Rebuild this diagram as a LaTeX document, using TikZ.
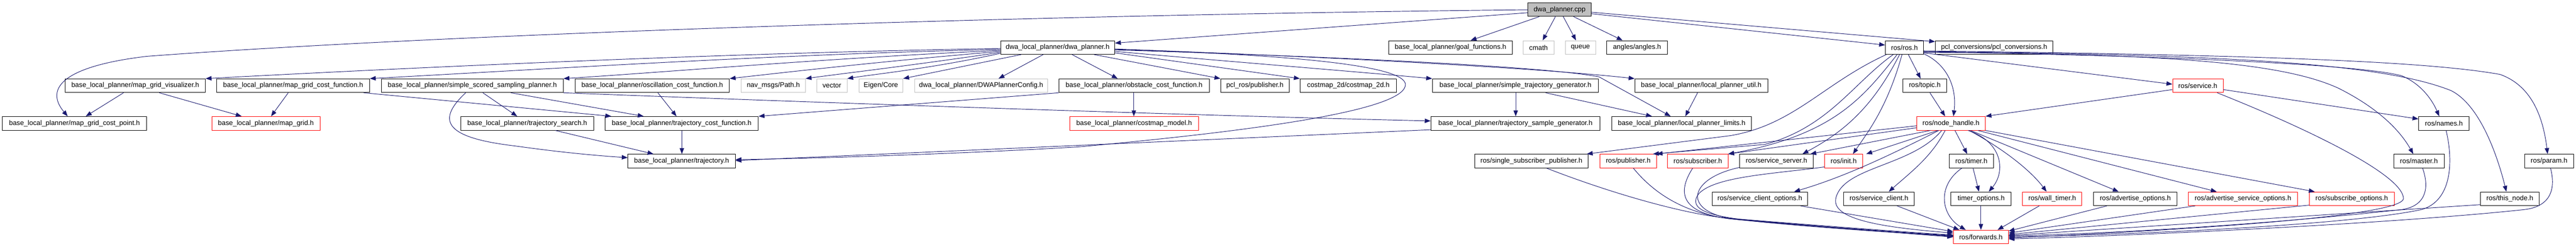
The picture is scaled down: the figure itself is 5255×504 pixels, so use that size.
\documentclass[tikz,border=0pt]{standalone}
\usepackage{fontspec}
\setmainfont{Liberation Sans}
\usetikzlibrary{arrows.meta}
\definecolor{edgeblue}{HTML}{191970}
\definecolor{lightborder}{HTML}{BFBFBF}
\definecolor{redborder}{HTML}{FF0000}
\tikzset{
  box/.style={draw=black, line width=1pt, minimum height=28pt, inner sep=0pt, fill=white,
              font=\fontsize{14}{16}\selectfont, text=black},
  redbox/.style={box, draw=redborder},
  graybox/.style={box, draw=lightborder},
  rootbox/.style={box, fill=lightborder},
  dep/.style={draw=edgeblue, line width=1pt, -{Triangle[length=12pt,width=9pt]}},
}
\begin{document}
\begin{tikzpicture}[x=1pt,y=-1pt]
\fill[white] (0,0) rectangle (5255,504);
\useasboundingbox (0,0) rectangle (5255,504);

% ---------- row 0
\node[rootbox, minimum width=129pt] (root) at (3181.5,19.5) {dwa\_planner.cpp};
% ---------- row 1
\node[box, minimum width=233pt] (dwah) at (2157.5,97) {dwa\_local\_planner/dwa\_planner.h};
\node[box, minimum width=252pt] (goal) at (2959,97) {base\_local\_planner/goal\_functions.h};
\node[graybox, minimum width=63pt] (cmath) at (3138.5,97) {cmath};
\node[graybox, minimum width=62pt] (queue) at (3224,97) {queue};
\node[box, minimum width=123pt] (angles) at (3339.5,97) {angles/angles.h};
\node[box, minimum width=78pt] (rosh) at (3885,97) {ros/ros.h};
\node[box, minimum width=240pt] (pclc) at (4068,97) {pcl\_conversions/pcl\_conversions.h};
% ---------- row 2
\node[box, minimum width=286pt] (mgv) at (276,175) {base\_local\_planner/map\_grid\_visualizer.h};
\node[box, minimum width=312pt] (mgcf) at (598,175) {base\_local\_planner/map\_grid\_cost\_function.h};
\node[box, minimum width=371pt] (sssp) at (963.5,175) {base\_local\_planner/simple\_scored\_sampling\_planner.h};
\node[box, minimum width=315pt] (osc) at (1330.5,175) {base\_local\_planner/oscillation\_cost\_function.h};
\node[graybox, minimum width=131pt] (path) at (1577.5,175) {nav\_msgs/Path.h};
\node[graybox, minimum width=62pt] (vector) at (1697,175) {vector};
\node[graybox, minimum width=90pt] (eigen) at (1797,175) {Eigen/Core};
\node[graybox, minimum width=271pt] (cfg) at (2001.5,175) {dwa\_local\_planner/DWAPlannerConfig.h};
\node[box, minimum width=307pt] (obst) at (2313.5,175) {base\_local\_planner/obstacle\_cost\_function.h};
\node[box, minimum width=140pt] (pclpub) at (2560,175) {pcl\_ros/publisher.h};
\node[box, minimum width=197pt] (cm2d) at (2750.5,175) {costmap\_2d/costmap\_2d.h};
\node[box, minimum width=339pt] (stg) at (3091.5,175) {base\_local\_planner/simple\_trajectory\_generator.h};
\node[box, minimum width=271pt] (lpu) at (3470.5,175) {base\_local\_planner/local\_planner\_util.h};
\node[box, minimum width=89pt] (topic) at (3926.5,175) {ros/topic.h};
\node[redbox, minimum width=103pt] (service) at (4483.5,175) {ros/service.h};
% ---------- row 3
\node[box, minimum width=294pt] (mgcp) at (152,252) {base\_local\_planner/map\_grid\_cost\_point.h};
\node[redbox, minimum width=221pt] (mg) at (542.5,252) {base\_local\_planner/map\_grid.h};
\node[box, minimum width=271pt] (ts) at (1075.5,252) {base\_local\_planner/trajectory\_search.h};
\node[box, minimum width=313pt] (tcf) at (1390.5,252) {base\_local\_planner/trajectory\_cost\_function.h};
\node[redbox, minimum width=263pt] (cmm) at (2313.5,252) {base\_local\_planner/costmap\_model.h};
\node[box, minimum width=345pt] (tsg) at (3091.5,252) {base\_local\_planner/trajectory\_sample\_generator.h};
\node[box, minimum width=285pt] (lpl) at (3430.5,252) {base\_local\_planner/local\_planner\_limits.h};
\node[redbox, minimum width=140pt] (nh) at (3980,252) {ros/node\_handle.h};
\node[box, minimum width=103pt] (names) at (4985.5,252) {ros/names.h};
% ---------- row 4
\node[box, minimum width=219pt] (traj) at (1390.5,329) {base\_local\_planner/trajectory.h};
\node[box, minimum width=232pt] (ssp) at (3124,329) {ros/single\_subscriber\_publisher.h};
\node[redbox, minimum width=115pt] (pub) at (3321.5,329) {ros/publisher.h};
\node[redbox, minimum width=123pt] (sub) at (3463.5,329) {ros/subscriber.h};
\node[box, minimum width=150pt] (ss) at (3624,329) {ros/service\_server.h};
\node[redbox, minimum width=78pt] (init) at (3761,329) {ros/init.h};
\node[box, minimum width=91pt] (timer) at (4021.5,329) {ros/timer.h};
\node[box, minimum width=103pt] (master) at (4934.5,329) {ros/master.h};
\node[box, minimum width=100pt] (param) at (5200,329) {ros/param.h};
% ---------- row 5
\node[box, minimum width=194pt] (sco) at (3590,406) {ros/service\_client\_options.h};
\node[box, minimum width=144pt] (sc) at (3833,406) {ros/service\_client.h};
\node[box, minimum width=123pt] (to) at (4041.5,406) {timer\_options.h};
\node[redbox, minimum width=121pt] (wt) at (4186.5,406) {ros/wall\_timer.h};
\node[box, minimum width=170pt] (ao) at (4356,406) {ros/advertise\_options.h};
\node[redbox, minimum width=223pt] (aso) at (4575.5,406) {ros/advertise\_service\_options.h};
\node[redbox, minimum width=173pt] (so) at (4797.5,406) {ros/subscribe\_options.h};
\node[box, minimum width=120pt] (tn) at (5120,406) {ros/this\_node.h};
% ---------- row 6
\node[redbox, minimum width=112pt] (fwd) at (4041,484) {ros/forwards.h};

% ================= edges
% root
\draw[dep] (root.west |- 0,26) -- (dwah.east |- 0,88);
\draw[dep] (root.west |- 0,20) .. controls (2100,30) and (900,70) .. (300,115) .. controls (130,135) and (90,180) .. (mgcp.north -| 138,0);
\draw[dep] (root.south -| 3140,0) -- (goal.north -| 3000,0);
\draw[dep] (root.south -| 3173,0) -- (cmath.north -| 3147,0);
\draw[dep] (root.south -| 3189,0) -- (queue.north -| 3215,0);
\draw[dep] (root.south -| 3210,0) -- (angles.north -| 3310,0);
\draw[dep] (root.east |- 0,28) -- (rosh.west |- 0,92);
\draw[dep] (root.east |- 0,25) -- (pclc.west |- 0,85);

% dwa_planner.h
\draw[dep] (dwah.west |- 0,99) .. controls (1500,108) and (900,135) .. (mgv.north east);
\draw[dep] (dwah.west |- 0,101) .. controls (1600,110) and (1100,142) .. (mgcf.north east);
\draw[dep] (dwah.west |- 0,103) .. controls (1700,118) and (1350,148) .. (sssp.north east);
\draw[dep] (dwah.west |- 0,105) .. controls (1800,125) and (1600,148) .. (osc.north east);
\draw[dep] (dwah.west |- 0,107) .. controls (1850,135) and (1720,150) .. (path.north east);
\draw[dep] (dwah.west |- 0,109) .. controls (1900,140) and (1780,152) .. (vector.north east);
\draw[dep] (dwah.south -| 2083,0) -- (eigen.north east);
\draw[dep] (dwah.south -| 2128,0) -- (cfg.north -| 2037,0);
\draw[dep] (dwah.south -| 2187,0) -- (obst.north -| 2280,0);
\draw[dep] (dwah.south -| 2232,0) -- (pclpub.north west);
\draw[dep] (dwah.east |- 0,108) -- (cm2d.north west);
\draw[dep] (dwah.east |- 0,105) .. controls (2500,125) and (2750,145) .. (stg.north west);
\draw[dep] (dwah.east |- 0,100) .. controls (2600,112) and (3100,135) .. (lpu.north west);
\draw[dep] (dwah.east |- 0,102) .. controls (2700,115) and (3150,135) .. (3262,157) -- (lpl.north -| 3408,0);
\draw[dep] (dwah.east |- 0,101) .. controls (2650,112) and (2868,135) .. (2867,173) .. controls (2866,220) and (2620,262) .. (2200,300) .. controls (2000,312) and (1700,323) .. (traj.east |- 0,326);
\draw[dep] (tsg.west |- 0,265) -- (traj.east |- 0,328);

% lower left
\draw[dep] (mgv.south -| 252,0) -- (mgcp.north -| 175,0);
\draw[dep] (mgv.south -| 325,0) -- (mg.north -| 493,0);
\draw[dep] (mgcf.south -| 588,0) -- (mg.north -| 553,0);
\draw[dep] (mgcf.south -| 742,0) -- (tcf.north -| 1247,0);
\draw[dep] (sssp.south -| 985,0) -- (ts.north -| 1055,0);
\draw[dep] (sssp.south -| 1042,0) -- (tcf.north -| 1313,0);
\draw[dep] (sssp.south -| 950,0) .. controls (885,250) and (915,282) .. (1050,298) .. controls (1150,312) and (1220,318) .. (traj.west |- 0,322);
\draw[dep] (ts.south -| 1133,0) -- (traj.north -| 1333,0);
\draw[dep] (tcf.south -| 1391,0) -- (traj.north -| 1391,0);
\draw[dep] (osc.south -| 1342,0) -- (tcf.north -| 1380,0);
\draw[dep] (obst.south west) -- (tcf.north east);
\draw[dep] (obst.south -| 2313,0) -- (cmm.north -| 2313,0);
\draw[dep] (sssp.south east) .. controls (1600,207) and (2400,235) .. (tsg.west |- 0,247);
\draw[dep] (stg.south -| 3092,0) -- (tsg.north -| 3092,0);
\draw[dep] (stg.south -| 3153,0) -- (lpl.north -| 3370,0);
\draw[dep] (lpu.south -| 3463,0) -- (lpl.north -| 3438,0);

% ros.h
\draw[dep] (rosh.south -| 3893,0) -- (topic.north -| 3918,0);
\draw[dep] (topic.south -| 3937,0) -- (nh.north -| 3968,0);
\draw[dep] (rosh.east |- 0,110) .. controls (3965,128) and (3993,170) .. (nh.north -| 3985,0);
\draw[dep] (rosh.east |- 0,108) -- (service.west |- 0,172);
\draw[dep] (rosh.east |- 0,104) .. controls (4600,112) and (4950,125) .. (5100,152) .. controls (5165,175) and (5188,240) .. (param.north -| 5197,0);
\draw[dep] (rosh.east |- 0,105) .. controls (4500,112) and (4850,125) .. (5000,185) .. controls (5060,215) and (5095,320) .. (tn.north -| 5113,0);
\draw[dep] (rosh.east |- 0,106) .. controls (4500,115) and (4830,135) .. (4900,155) .. controls (4940,172) and (4962,205) .. (names.north -| 4976,0);
\draw[dep] (rosh.east |- 0,107) .. controls (4400,110) and (4650,125) .. (4770,180) .. controls (4850,220) and (4895,265) .. (master.north -| 4923,0);
\draw[dep] (rosh.south -| 3848,0) .. controls (3720,170) and (3660,255) .. (3530,277) -- (ssp.north -| 3237,0);
\draw[dep] (rosh.south -| 3862,0) .. controls (3780,170) and (3730,260) .. (3600,295) -- (pub.north -| 3372,0);
\draw[dep] (rosh.south -| 3870,0) .. controls (3800,200) and (3740,275) .. (sub.north east);
\draw[dep] (rosh.south -| 3875,0) .. controls (3820,220) and (3760,270) .. (ss.north -| 3677,0);
\draw[dep] (rosh.south -| 3880,0) .. controls (3850,220) and (3810,270) .. (init.north -| 3780,0);

% node_handle.h
\draw[dep] (nh.west |- 0,257) -- (pub.north east);
\draw[dep] (nh.west |- 0,261) -- (sub.north east);
\draw[dep] (nh.south -| 3938,0) -- (ss.north -| 3693,0);
\draw[dep] (nh.south -| 3953,0) -- (init.north -| 3807,0);
\draw[dep] (nh.south -| 3955,0) .. controls (3850,320) and (3760,362) .. (sco.north -| 3660,0);
\draw[dep] (nh.south -| 3968,0) .. controls (3940,320) and (3900,350) .. (sc.north -| 3853,0);
\draw[dep] (nh.south -| 3961,0) .. controls (3900,340) and (3760,340) .. (3745,405) .. controls (3735,450) and (3850,465) .. (fwd.west |- 0,476);
\draw[dep] (nh.south -| 3988,0) -- (timer.north -| 4013,0);
\draw[dep] (nh.south -| 4015,0) .. controls (4085,290) and (4092,350) .. (to.north -| 4057,0);
\draw[dep] (nh.south -| 4017,0) .. controls (4080,300) and (4140,345) .. (wt.north -| 4175,0);
\draw[dep] (nh.south -| 4020,0) -- (ao.north -| 4322,0);
\draw[dep] (nh.south -| 4035,0) -- (aso.north -| 4522,0);
\draw[dep] (nh.south east) -- (so.north -| 4722,0);

% service.h
\draw[dep] (service.west |- 0,183) -- (nh.north east);
\draw[dep] (service.east |- 0,183) -- (names.west |- 0,243);
\draw[dep] (service.south -| 4523,0) .. controls (4700,260) and (4900,355) .. (4903,405) .. controls (4905,440) and (4500,468) .. (fwd.east |- 0,486);

% into forwards.h
\draw[dep] (timer.south -| 4002,0) .. controls (3950,380) and (3960,440) .. (fwd.north -| 4010,0);
\draw[dep] (timer.south -| 4025,0) -- (to.north -| 4037,0);
\draw[dep] (to.south -| 4041,0) -- (fwd.north -| 4041,0);
\draw[dep] (wt.south -| 4160,0) -- (fwd.north -| 4075,0);
\draw[dep] (ao.south -| 4298,0) -- (fwd.east |- 0,472);
\draw[dep] (aso.south -| 4478,0) -- (fwd.east |- 0,476);
\draw[dep] (so.west |- 0,419) -- (fwd.east |- 0,479);
\draw[dep] (tn.west |- 0,418) -- (fwd.east |- 0,481);
\draw[dep] (param.south -| 5203,0) .. controls (5215,390) and (5200,422) .. (5150,428) .. controls (4900,455) and (4400,480) .. (fwd.east |- 0,488);
\draw[dep] (names.south -| 4990,0) .. controls (5005,330) and (5002,410) .. (4940,428) .. controls (4800,458) and (4400,478) .. (fwd.east |- 0,484);
\draw[dep] (master.south -| 4942,0) .. controls (4955,380) and (4952,420) .. (4900,428) .. controls (4700,450) and (4400,474) .. (fwd.east |- 0,482);
\draw[dep] (sc.south -| 3870,0) -- (fwd.north -| 3997,0);
\draw[dep] (sco.south -| 3673,0) -- (fwd.west |- 0,473);
\draw[dep] (ssp.south -| 3155,0) .. controls (3300,400) and (3450,440) .. (3530,446) .. controls (3700,460) and (3900,475) .. (fwd.west |- 0,480);
\draw[dep] (pub.south -| 3332,0) .. controls (3370,390) and (3430,435) .. (3530,447) .. controls (3700,462) and (3900,476) .. (fwd.west |- 0,481);
\draw[dep] (sub.south -| 3453,0) .. controls (3420,395) and (3430,435) .. (3530,447) .. controls (3700,464) and (3900,477) .. (fwd.west |- 0,482);
\draw[dep] (ss.west |- 0,342) .. controls (3440,365) and (3425,440) .. (3560,450) .. controls (3700,465) and (3900,477) .. (fwd.west |- 0,483);
\draw[dep] (init.west |- 0,341) .. controls (3620,355) and (3500,360) .. (3466,395) .. controls (3440,428) and (3490,442) .. (3570,450) .. controls (3750,465) and (3900,478) .. (fwd.west |- 0,484);
\end{tikzpicture}
\end{document}
